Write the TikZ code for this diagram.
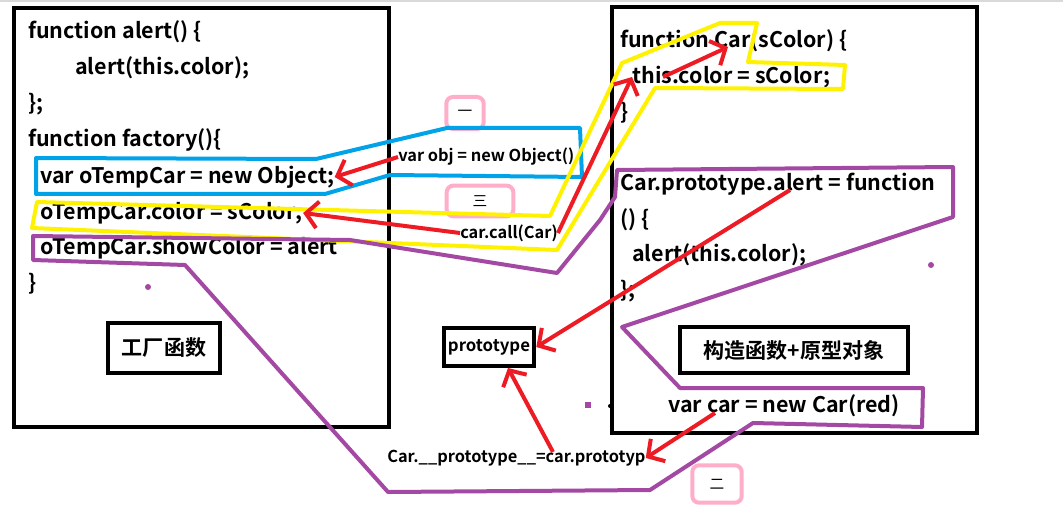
\documentclass[tikz,border=0pt]{standalone}
\usepackage{fontspec}
\setmainfont{Noto Sans CJK SC Bold}
\newfontfamily\thinfont{Noto Sans CJK SC}
\usetikzlibrary{arrows.meta}

\definecolor{paintred}{RGB}{237,28,36}
\definecolor{paintblue}{RGB}{0,162,232}
\definecolor{paintyellow}{RGB}{255,242,0}
\definecolor{paintpurple}{RGB}{163,73,164}
\definecolor{paintpink}{RGB}{255,174,201}

\tikzset{
  code/.style={anchor=west, inner sep=0pt, font=\fontsize{16.1}{19}\selectfont},
  note/.style={anchor=west, inner sep=0pt, font=\fontsize{12.3}{14}\selectfont},
  frame/.style={draw=black, line width=3pt},
  titlebox/.style={draw=black, line width=3pt, inner sep=0pt,
    font=\fontsize{15.8}{18}\selectfont},
  tag/.style={draw=paintpink, line width=3pt, rounded corners=5pt,
    inner sep=0pt, font=\thinfont\fontsize{11}{13}\selectfont},
  outline/.style={line width=3pt, line join=round},
  redarrow/.style={draw=paintred, line width=3pt,
    -{Straight Barb[length=9pt,width=20pt]}}
}

\begin{document}
\begin{tikzpicture}[x=0.75pt, y=-0.75pt]

    % Page size of the screenshot
    \useasboundingbox (0,0) rectangle (1063,520);
    \draw[black!15, line width=1.5pt] (0,1) -- (1063,1);

    % Two frames: factory function and constructor + prototype
    \draw[frame] (14,8) rectangle (389,427);
    \draw[frame] (612,7) rectangle (977,433);

    % Left frame code
    \node[code] (la1) at (28,32) {function alert() \{};
    \node[code] (la2) at (75,68) {alert(this.color);};
    \node[code] (la3) at (28,104) {\};};
    \node[code] (la4) at (28,140) {function factory()\{};
    \node[code] (la5) at (40,177) {var oTempCar = new Object;};
    \node[code] (la6) at (40,213) {oTempCar.color = sColor;};
    \node[code] (la7) at (40,248) {oTempCar.showColor = alert};
    \node[code] (la8) at (28,284) {\}};
    \node[titlebox, minimum width=84pt, minimum height=37pt] (factbox) at (164,348) {工厂函数};

    % Right frame code
    \node[code] (ra1) at (620,41) {function Car(sColor) \{};
    \node[code] (ra2) at (632,77) {this.color = sColor;};
    \node[code] (ra3) at (620,113) {\}};
    \node[code] (ra4) at (620,184) {Car.prototype.alert = function};
    \node[code] (ra5) at (620,220) {() \{};
    \node[code] (ra6) at (632,255) {alert(this.color);};
    \node[code] (ra7) at (620,291) {\};};
    \node[titlebox, minimum width=171pt, minimum height=35pt] (ctorbox) at (794,350) {构造函数+原型对象};
    \node[code] (ra8) at (668,406) {var car = new Car(red)};

    % Notes in between
    \node[note] (objline) at (398,157) {var obj = new Object()};
    \node[note] (callline) at (460,233) {car.call(Car)};
    \node[note] (protoline) at (387,458) {Car.\_\_prototype\_\_=car.prototyp};
    \node[draw=black, line width=3pt, inner sep=0pt, minimum width=68pt, minimum height=28pt,
      font=\fontsize{12.6}{14}\selectfont] (protobox) at (489,347) {prototype};

    % Step tags
    \node[tag, minimum width=28pt, minimum height=24pt] (tag1) at (465,113) {一};
    \node[tag, minimum width=50pt, minimum height=23pt] (tag3) at (480,201) {三};
    \node[tag, minimum width=37pt, minimum height=28pt] (tag2) at (717,484) {二};

    % Blue: new Object
    \draw[outline, paintblue] (36,158) -- (316,159) -- (447,128) -- (580,128)
      -- (582,177) -- (390,175) -- (325,194) -- (36,194) -- cycle;

    % Yellow: call
    \draw[outline, paintyellow] (37,202) -- (550,216) -- (622,63) -- (720,23)
      -- (757,23) -- (748,62) -- (845,65) -- (843,89) -- (655,88)
      -- (557,250) -- (32,228) -- cycle;

    % Purple: prototype method
    \draw[outline, paintpurple] (33,236) -- (350,240) -- (557,273) -- (600,220)
      -- (615,197) -- (617,170) -- (953,167) -- (953,217) -- (622,327)
      -- (680,388) -- (923,388) -- (922,427) -- (753,423) -- (650,490)
      -- (388,492) -- (185,265) -- (33,260) -- cycle;

    % Stray dots
    \fill[paintpurple] (148,287) circle (3);
    \fill[paintpurple] (931,265) circle (3);
    \fill[paintpurple] (585,402) rectangle (591,408);
    \fill[black] (610,406) circle (2);

    % Free ends of the red arrows
    \coordinate (thisfoot) at (663,77);
    \coordinate (carhead) at (728,47);
    \coordinate (alertword) at (790,190);
    \coordinate (protofoot) at (553,452);
    \coordinate (protohead) at (508,368);
    \coordinate (carvar) at (715,413);

    % Red arrows
    \draw[redarrow] (objline.west) -- (la5.east);
    \draw[redarrow] (callline.west) -- (la6.east);
    \draw[redarrow] (callline.east) -- (ra2.west);
    \draw[redarrow] (thisfoot) -- (carhead);
    \draw[redarrow] (alertword) -- (protobox.east);
    \draw[redarrow] (protofoot) -- (protohead);
    \draw[redarrow] (carvar) -- (protoline.east);

\end{tikzpicture}
\end{document}
